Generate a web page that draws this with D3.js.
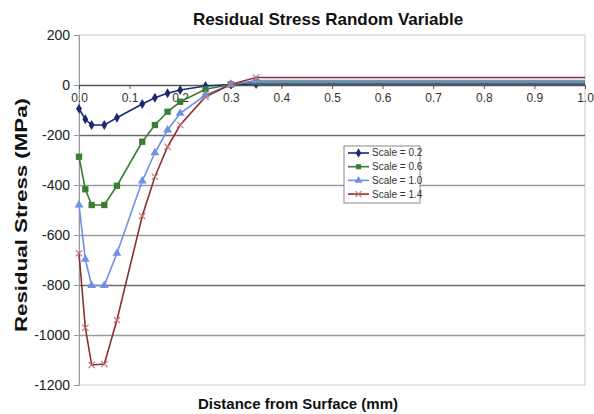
<!DOCTYPE html>
<html><head><meta charset="utf-8">
<script src="https://cdn.jsdelivr.net/npm/d3@7"></script>
<style>body{margin:0;background:#fff}svg{display:block}</style>
</head><body>
<script>
const distances = [0, 0.0125, 0.025, 0.05, 0.075, 0.125, 0.15, 0.175, 0.2, 0.25, 0.3, 0.35, 1.0];
const scale02 = [-95, -137, -160, -160, -131, -76, -51, -33, -20, -4, 2, 4, 4];
const scale06 = [-287, -417, -480, -480, -403, -227, -160, -107, -67, -17, 2, 12, 12];
const scale10 = [-480, -697, -802, -802, -673, -384, -271, -180, -113, -40, 2, 18, 18];
const scale14 = [-673, -971, -1120, -1116, -940, -524, -367, -247, -160, -47, 2, 30, 30];
const seriesNames = ["Scale = 0.2", "Scale = 0.6", "Scale = 1.0", "Scale = 1.4"];
const yTicks = [200, 0, -200, -400, -600, -800, -1000, -1200];
const xTicks = [0, 0.1, 0.2, 0.3, 0.4, 0.5, 0.6, 0.7, 0.8, 0.9, 1.0];

const W = 594, H = 414;
const colors = ["#1b2a78", "#3b7d34", "#6f90e6", "#8e2f2f"];
const shapes = ["diamond", "square", "triangle", "cross"];
const allValues = [scale02, scale06, scale10, scale14];
const FONT = "Liberation Sans, Arial, sans-serif";

const svg = d3.select("body").append("svg").attr("width", W).attr("height", H)
  .style("font-family", FONT);

const x = d3.scaleLinear().domain([0, 1]).range([79, 585]);
const y = d3.scaleLinear().domain([-1200, 200]).range([385, 35]);

// plot frame
svg.append("rect").attr("x", x(0)).attr("y", y(200)).attr("width", x(1) - x(0)).attr("height", y(-1200) - y(200))
  .attr("fill", "#fff").attr("stroke", "#c8c8c8").attr("stroke-width", 1);

// gridlines
const darkGrid = new Set([0, -200, -800]);
svg.append("g").selectAll("line").data(yTicks.filter(t => t !== 200 && t !== -1200)).join("line")
  .attr("x1", x(0)).attr("x2", x(1))
  .attr("y1", d => Math.round(y(d)) + 0.5).attr("y2", d => Math.round(y(d)) + 0.5)
  .attr("stroke", d => d === 0 ? "#555" : (darkGrid.has(d) ? "#6a6a6a" : "#9a9a9a"))
  .attr("stroke-width", d => d === 0 ? 1.6 : 1.3);

// y axis
const yAxis = d3.axisLeft(y).tickValues(yTicks).tickSize(5).tickPadding(4).tickFormat(d => String(d));
const gy = svg.append("g").attr("transform", `translate(${x(0)},0)`).call(yAxis);
gy.select(".domain").attr("stroke", "#9a9a9a");
gy.selectAll(".tick line").attr("stroke", "#9a9a9a");
gy.selectAll("text").attr("font-size", 14).attr("fill", "#222").attr("font-family", FONT);

// x axis at y = 0
const xAxis = d3.axisBottom(x).tickValues(xTicks).tickSize(4).tickPadding(4).tickFormat(d3.format(".1f"));
const gx = svg.append("g").attr("transform", `translate(0,${y(0)})`).call(xAxis);
gx.select(".domain").remove();
gx.selectAll(".tick line").attr("stroke", "#555");
gx.selectAll("text").attr("font-size", 12).attr("fill", "#333").attr("font-family", FONT);

// series
const symbolFor = s => s === "diamond" ? d3.symbolDiamond : s === "square" ? d3.symbolSquare : s === "triangle" ? d3.symbolTriangle : d3.symbolCross;
const line = d3.line().x(d => x(d[0])).y(d => y(d[1]));

allValues.forEach((vals, i) => {
  const pts = distances.map((dx, j) => [dx, vals[j]]);
  svg.append("path").datum(pts).attr("d", line).attr("fill", "none")
    .attr("stroke", colors[i]).attr("stroke-width", 1.6);
});
allValues.forEach((vals, i) => {
  const pts = distances.map((dx, j) => [dx, vals[j]]).filter(p => p[0] < 1);
  const g = svg.append("g");
  pts.forEach(p => {
    if (shapes[i] === "cross") {
      const cx = x(p[0]), cy = y(p[1]), r = 3.2;
      g.append("path").attr("d", `M${cx-r},${cy-r}L${cx+r},${cy+r}M${cx-r},${cy+r}L${cx+r},${cy-r}`)
        .attr("stroke", "#c07070").attr("stroke-width", 1.1).attr("fill", "none");
    } else {
      const size = shapes[i] === "diamond" ? 30 : shapes[i] === "square" ? 40 : 34;
      g.append("path").attr("d", d3.symbol().type(symbolFor(shapes[i])).size(size)())
        .attr("transform", `translate(${x(p[0])},${y(p[1])})`).attr("fill", colors[i]);
    }
  });
});

// legend
const lg = svg.append("g").attr("transform", "translate(344,146)");
lg.append("rect").attr("width", 76).attr("height", 57).attr("fill", "#fff").attr("stroke", "#888").attr("stroke-width", 1);
seriesNames.forEach((n, i) => {
  const ly = 7 + i * 13.7;
  lg.append("line").attr("x1", 4).attr("x2", 25).attr("y1", ly).attr("y2", ly).attr("stroke", colors[i]).attr("stroke-width", 1.6);
  if (shapes[i] === "cross") {
    const r = 3;
    lg.append("path").attr("d", `M${14.5-r},${ly-r}L${14.5+r},${ly+r}M${14.5-r},${ly+r}L${14.5+r},${ly-r}`)
      .attr("stroke", "#c07070").attr("stroke-width", 1.1);
  } else {
    lg.append("path").attr("d", d3.symbol().type(symbolFor(shapes[i])).size(26)())
      .attr("transform", `translate(14.5,${ly})`).attr("fill", colors[i]);
  }
  lg.append("text").attr("x", 28).attr("y", ly + 3.4).attr("font-size", 10).attr("fill", "#333").text(n);
});

// titles
svg.append("text").attr("x", 328).attr("y", 25).attr("text-anchor", "middle")
  .attr("font-size", 17).attr("font-weight", "bold").attr("fill", "#111").text("Residual Stress Random Variable");
svg.append("text").attr("x", 298).attr("y", 409).attr("text-anchor", "middle")
  .attr("font-size", 15).attr("font-weight", "bold").attr("fill", "#111").text("Distance from Surface (mm)");
svg.append("text").attr("transform", "translate(27,215) rotate(-90)").attr("text-anchor", "middle")
  .attr("font-size", 17).attr("font-weight", "bold").attr("fill", "#111")
  .attr("textLength", 234).attr("lengthAdjust", "spacingAndGlyphs").text("Residual Stress (MPa)");
</script>
</body></html>
